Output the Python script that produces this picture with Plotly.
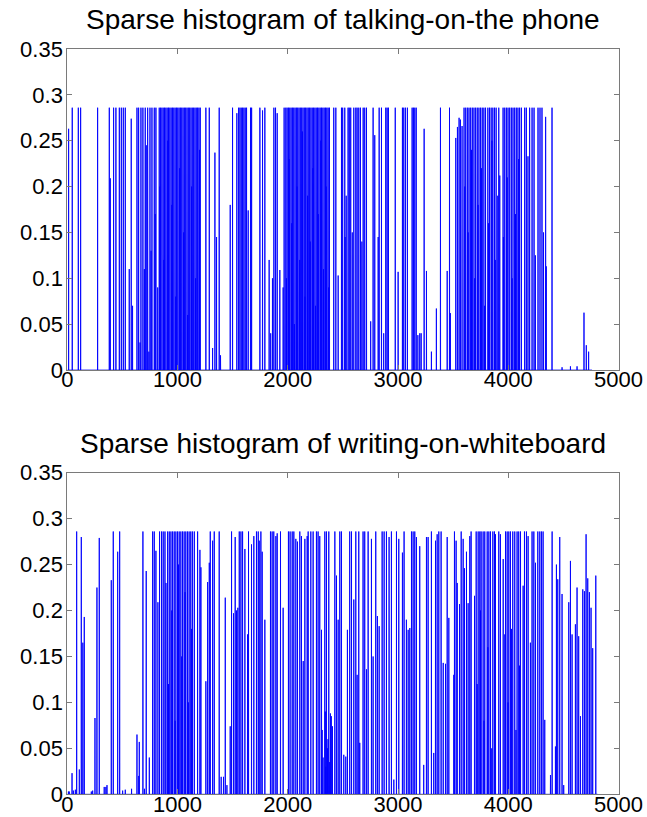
import numpy as np
import plotly.graph_objects as go

# ---------------- data ----------------
talk_n_bins = 4760
talk_bins = [12, 45, 100, 121, 275, 381, 390, 420, 441, 472, 490, 508, 526, 562, 580, 592,
             632, 647, 660, 668, 686, 699, 707, 716, 729, 740, 750, 760, 768, 789, 797, 804, 820,
             834, 840, 846, 858, 870, 876, 882, 894, 906, 912, 918, 930, 942, 948, 954, 966, 978,
             984, 990, 1002, 1014, 1020, 1026, 1038, 1050, 1056, 1062, 1074, 1086, 1092, 1098,
             1110, 1122, 1128, 1134, 1146, 1158, 1164, 1170, 1182, 1194, 1200, 1206,
             1257, 1288, 1318, 1339, 1354, 1378, 1390, 1478, 1499, 1538, 1554, 1566, 1578, 1590,
             1602, 1614, 1626, 1641, 1662, 1672, 1747, 1771, 1792, 1831, 1845, 1861, 1874, 1889,
             1904, 1928, 1958, 1967,
             1982, 1988, 1994, 2006, 2012, 2018, 2030, 2036, 2042, 2054, 2060, 2066, 2078, 2084,
             2090, 2102, 2108, 2114, 2126, 2132, 2138, 2150, 2156, 2162, 2174, 2180, 2186, 2198,
             2204, 2210, 2222, 2228, 2234, 2246, 2252, 2258, 2270, 2276, 2282, 2294, 2300, 2306,
             2318, 2324, 2330, 2342, 2348, 2354, 2366, 2372, 2378,
             2417, 2436, 2457, 2487, 2498, 2517, 2520, 2530, 2547, 2558, 2571, 2585, 2599, 2617,
             2629, 2644, 2659, 2672, 2684, 2698, 2714, 2752, 2774, 2789, 2820, 2829, 2850, 2870,
             2889, 2901, 2913, 2975, 3001, 3040, 3052, 3067, 3085, 3128, 3140, 3152, 3165, 3180,
             3197, 3210, 3237, 3258, 3303, 3348, 3385, 3446, 3467, 3475, 3524, 3539, 3554, 3566,
             3581,
             3599, 3606, 3614, 3629, 3636, 3644, 3659, 3666, 3674, 3689, 3696, 3704, 3719, 3726,
             3734, 3749, 3756, 3764, 3779, 3786, 3794, 3815, 3822, 3830, 3845, 3852, 3860, 3875,
             3882, 3890, 3905, 3914, 3923,
             3953, 3956, 3968, 3983, 3990, 3998, 4013, 4028, 4035, 4043, 4058, 4065, 4073, 4088,
             4095, 4103, 4119,
             4149, 4164, 4179, 4194, 4216, 4234, 4246, 4270, 4288, 4306, 4320, 4339, 4345, 4397,
             4488, 4564, 4624, 4687, 4708, 4729]
talk_vals = [0.263, 0.286, 0.286, 0.286, 0.286, 0.286, 0.209, 0.286, 0.286, 0.286, 0.286, 0.286, 0.286, 0.110, 0.274, 0.070,
             0.286, 0.286, 0.030, 0.286, 0.286, 0.110, 0.286, 0.245, 0.286, 0.020, 0.286, 0.130, 0.286, 0.286, 0.170, 0.286, 0.090,
             0.286, 0.200, 0.286, 0.286, 0.286, 0.120, 0.286, 0.286, 0.286, 0.250, 0.286, 0.286, 0.286, 0.180, 0.286, 0.286, 0.286,
             0.080, 0.286, 0.286, 0.286, 0.220, 0.286, 0.286, 0.286, 0.150, 0.286, 0.286, 0.286, 0.060, 0.286,
             0.286, 0.286, 0.200, 0.286, 0.286, 0.286, 0.100, 0.286, 0.286, 0.286, 0.240, 0.286,
             0.286, 0.286, 0.024, 0.237, 0.145, 0.286, 0.016, 0.180, 0.286, 0.280, 0.286, 0.286, 0.286, 0.286,
             0.286, 0.286, 0.286, 0.174, 0.286, 0.286, 0.286, 0.283, 0.286, 0.120, 0.040, 0.100, 0.286, 0.286,
             0.280, 0.109, 0.090, 0.286,
             0.286, 0.100, 0.286, 0.286, 0.230, 0.286, 0.286, 0.160, 0.286, 0.286, 0.050, 0.286, 0.286, 0.200,
             0.286, 0.286, 0.120, 0.286, 0.286, 0.260, 0.286, 0.286, 0.080, 0.286, 0.286, 0.190, 0.286, 0.286,
             0.140, 0.286, 0.286, 0.220, 0.286, 0.286, 0.070, 0.286, 0.286, 0.170, 0.286, 0.286, 0.250, 0.286,
             0.286, 0.110, 0.286, 0.286, 0.200, 0.286, 0.286, 0.090, 0.286,
             0.286, 0.286, 0.103, 0.286, 0.286, 0.286, 0.145, 0.190, 0.286, 0.286, 0.286, 0.150, 0.286, 0.286,
             0.286, 0.286, 0.286, 0.140, 0.286, 0.286, 0.286, 0.053, 0.286, 0.256, 0.145, 0.286, 0.286, 0.040,
             0.286, 0.286, 0.286, 0.286, 0.107, 0.286, 0.286, 0.286, 0.286, 0.286, 0.286, 0.286, 0.286, 0.038,
             0.040, 0.040, 0.263, 0.108, 0.020, 0.067, 0.286, 0.108, 0.286, 0.062, 0.253, 0.265, 0.275, 0.273,
             0.266,
             0.286, 0.200, 0.286, 0.286, 0.150, 0.286, 0.286, 0.240, 0.286, 0.286, 0.100, 0.286, 0.286, 0.180,
             0.286, 0.286, 0.220, 0.286, 0.286, 0.070, 0.286, 0.286, 0.160, 0.286, 0.286, 0.250, 0.286, 0.286,
             0.120, 0.286, 0.190, 0.286, 0.212,
             0.286, 0.145, 0.286, 0.286, 0.210, 0.286, 0.286, 0.286, 0.100, 0.286, 0.286, 0.170, 0.286, 0.286,
             0.230, 0.286, 0.286,
             0.286, 0.286, 0.233, 0.286, 0.286, 0.286, 0.125, 0.286, 0.286, 0.286, 0.150, 0.276, 0.113, 0.286,
             0.003, 0.004, 0.004, 0.0625, 0.027, 0.020]

write_n_bins = 4810
write_bins = [10, 18, 43, 55, 73, 85, 109, 127, 141, 154, 218, 230, 251, 269, 290, 335, 350, 360,
              399, 417, 457, 475, 502, 526, 583, 632, 648, 653, 686, 700, 716, 744, 774, 789, 804,
              822, 837, 855, 870, 886, 895,
              910, 918, 925, 940, 948, 955, 970, 978, 985, 1000, 1008, 1015, 1030, 1038, 1045, 1060,
              1068, 1075, 1090, 1098, 1105, 1120, 1128, 1135, 1152,
              1182, 1203, 1212, 1257, 1273, 1288, 1297, 1318, 1333, 1378, 1396, 1417, 1433, 1448,
              1478, 1490, 1508, 1523, 1535, 1547, 1560, 1575, 1590, 1611, 1635, 1644,
              1671, 1692, 1716, 1732, 1741, 1756, 1768, 1792, 1843, 1858, 1873, 1892, 1904, 1934,
              1958, 2006, 2021, 2040, 2055, 2073, 2088, 2109, 2124, 2140, 2155, 2176, 2185, 2209,
              2230, 2260, 2275, 2290, 2306, 2312, 2320, 2336, 2340, 2345, 2351, 2360, 2365, 2372,
              2380, 2387, 2395, 2405, 2427, 2442, 2457, 2472, 2487, 2508, 2526, 2541, 2562, 2578,
              2599, 2617, 2629, 2644, 2653, 2683, 2698, 2714, 2729, 2759, 2774, 2798, 2813, 2829,
              2856, 2874, 2895, 2919, 2940, 2962, 2986, 3007, 3040, 3055, 3076, 3092, 3107, 3122,
              3137, 3152, 3167, 3197, 3233, 3258, 3273, 3303, 3324,
              3340, 3355, 3370, 3391, 3410, 3431, 3446, 3461, 3506, 3512, 3527, 3537, 3558, 3573,
              3591, 3603, 3621, 3636, 3651, 3663, 3694, 3709, 3718, 3727, 3742, 3748, 3754, 3772,
              3780, 3787, 3809, 3815, 3824, 3839, 3850, 3860, 3875, 3884, 3914, 3929, 3954, 3969,
              3975, 3990, 3998, 4005, 4020, 4030, 4041, 4059, 4070, 4080, 4095, 4102, 4111, 4135,
              4147, 4165, 4180, 4201, 4216, 4232, 4247, 4268, 4286, 4301, 4316, 4331, 4383, 4398,
              4428, 4437, 4449, 4467, 4488, 4503, 4549, 4564, 4579, 4609, 4624, 4639, 4655, 4676,
              4691, 4706, 4721, 4736, 4751, 4766, 4794]
write_vals = [0.003, 0.003, 0.023, 0.004, 0.005, 0.286, 0.027, 0.280, 0.165, 0.193, 0.003, 0.004, 0.083, 0.225, 0.279, 0.008, 0.008, 0.010,
              0.233, 0.286, 0.264, 0.286, 0.004, 0.005, 0.006, 0.065, 0.020, 0.057, 0.286, 0.006, 0.243, 0.040, 0.286, 0.286, 0.265,
              0.209, 0.286, 0.286, 0.286, 0.286, 0.230,
              0.286, 0.120, 0.286, 0.286, 0.200, 0.286, 0.286, 0.080, 0.286, 0.286, 0.250, 0.286, 0.286, 0.150, 0.286, 0.286,
              0.220, 0.286, 0.286, 0.100, 0.286, 0.286, 0.180, 0.286, 0.286,
              0.286, 0.266, 0.247, 0.123, 0.231, 0.252, 0.286, 0.276, 0.286, 0.286, 0.019, 0.019, 0.214, 0.010,
              0.074, 0.286, 0.197, 0.280, 0.200, 0.203, 0.286, 0.286, 0.286, 0.267, 0.174, 0.286,
              0.272, 0.281, 0.286, 0.286, 0.276, 0.286, 0.264, 0.190, 0.286, 0.286, 0.286, 0.281, 0.284, 0.286,
              0.203, 0.286, 0.286, 0.286, 0.286, 0.278, 0.275, 0.286, 0.281, 0.145, 0.278, 0.281, 0.286, 0.286,
              0.286, 0.286, 0.286, 0.281, 0.179, 0.070, 0.040, 0.286, 0.090, 0.030, 0.286, 0.050, 0.060, 0.286,
              0.035, 0.088, 0.085, 0.074, 0.286, 0.238, 0.190, 0.286, 0.286, 0.043, 0.041, 0.179, 0.286, 0.286,
              0.212, 0.286, 0.130, 0.286, 0.056, 0.286, 0.286, 0.136, 0.286, 0.278, 0.150, 0.286, 0.194, 0.183,
              0.286, 0.286, 0.286, 0.280, 0.286, 0.016, 0.286, 0.278, 0.263, 0.286, 0.190, 0.179, 0.181, 0.286,
              0.286, 0.286, 0.280, 0.270, 0.032, 0.280, 0.280, 0.286, 0.045,
              0.276, 0.283, 0.286, 0.286, 0.143, 0.142, 0.280, 0.192, 0.130, 0.286, 0.276, 0.230, 0.207, 0.286,
              0.278, 0.246, 0.264, 0.208, 0.281, 0.286, 0.216, 0.286, 0.120, 0.286, 0.286, 0.200, 0.286, 0.286,
              0.080, 0.286, 0.286, 0.160, 0.286, 0.286, 0.050, 0.286, 0.286, 0.283, 0.286, 0.283, 0.256, 0.174,
              0.286, 0.286, 0.100, 0.286, 0.286, 0.180, 0.286, 0.286, 0.070, 0.286, 0.286, 0.140, 0.286, 0.227,
              0.286, 0.286, 0.281, 0.165, 0.286, 0.286, 0.252, 0.286, 0.286, 0.286, 0.286, 0.081, 0.021, 0.286,
              0.052, 0.250, 0.234, 0.280, 0.218, 0.010, 0.209, 0.254, 0.174, 0.185, 0.225, 0.172, 0.085, 0.223,
              0.221, 0.283, 0.235, 0.220, 0.203, 0.159, 0.238]

titles = ["Sparse histogram of talking-on-the phone", "Sparse histogram of writing-on-whiteboard"]
x_ticks = [0, 1000, 2000, 3000, 4000, 5000]
y_ticks = [0, 0.05, 0.1, 0.15, 0.2, 0.25, 0.3, 0.35]
y_ticklabels = ["0", "0.05", "0.1", "0.15", "0.2", "0.25", "0.3", "0.35"]


def dense(n, bins, vals):
    h = np.zeros(n)
    h[np.array(bins) - 1] = vals
    return np.arange(1, n + 1), h


W, H = 647, 817
fig = go.Figure()

panels = [(talk_n_bins, talk_bins, talk_vals, "x", "y"),
          (write_n_bins, write_bins, write_vals, "x2", "y2")]
for n, b, v, xa, ya in panels:
    xs, ys = dense(n, b, v)
    fig.add_trace(go.Scatter(x=xs, y=ys, mode="lines", xaxis=xa, yaxis=ya,
                             line=dict(color="#0000ff", width=0.9, simplify=False),
                             hoverinfo="skip", showlegend=False))

x0, x1 = 67.3 / W, 618.5 / W
top_dom = [1 - 370 / H, 1 - 49 / H]
bot_dom = [1 - 794.3 / H, 1 - 472.7 / H]

axis_common = dict(showline=True, linecolor="#7a7a7a", linewidth=1, mirror="ticks",
                   ticks="inside", ticklen=5, tickcolor="#7a7a7a", tickwidth=1,
                   showgrid=False, zeroline=False, automargin=False,
                   tickfont=dict(family="Arial", size=22, color="black"))

fig.update_layout(
    width=W, height=H, margin=dict(l=0, r=0, t=0, b=0, autoexpand=False),
    paper_bgcolor="white", plot_bgcolor="white",
    xaxis=dict(domain=[x0, x1], range=[0, 5000], tickvals=x_ticks, anchor="y",
               ticklabelstandoff=-10, **axis_common),
    yaxis=dict(domain=top_dom, range=[0, 0.35], tickvals=y_ticks, ticktext=y_ticklabels,
               anchor="x", ticklabelstandoff=-1, **axis_common),
    xaxis2=dict(domain=[x0, x1], range=[0, 5000], tickvals=x_ticks, anchor="y2",
                ticklabelstandoff=-10, **axis_common),
    yaxis2=dict(domain=bot_dom, range=[0, 0.35], tickvals=y_ticks, ticktext=y_ticklabels,
                anchor="x2", ticklabelstandoff=-1, **axis_common),
)

for t, yc in zip(titles, [20, 443]):
    fig.add_annotation(text=t, x=(x0 + x1) / 2, y=1 - yc / H, xref="paper", yref="paper",
                       showarrow=False, xanchor="center", yanchor="middle",
                       font=dict(family="Arial", size=28, color="black"))

fig.write_html("out.html")
